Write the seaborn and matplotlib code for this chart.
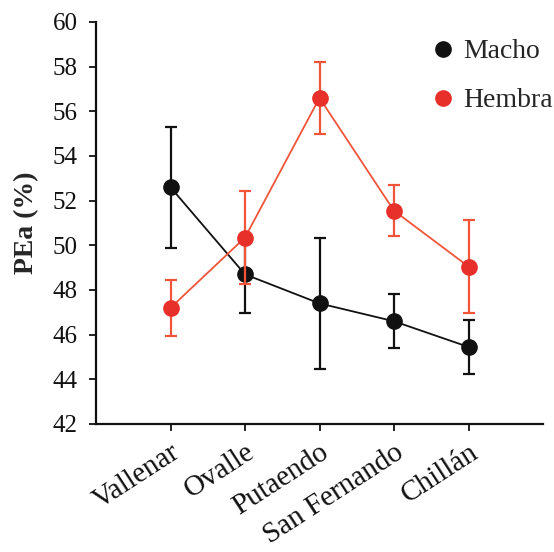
import matplotlib
matplotlib.use("Agg")
import matplotlib.pyplot as plt
import seaborn as sns
import pandas as pd
import numpy as np
from matplotlib.lines import Line2D

sites = ["Vallenar", "Ovalle", "Putaendo", "San Fernando", "Chillán"]
macho_mean = [52.6, 48.7, 47.4, 46.6, 45.45]
macho_err = [2.7, 1.72, 2.95, 1.2, 1.22]
hembra_mean = [47.2, 50.35, 56.6, 51.55, 49.05]
hembra_err = [1.25, 2.1, 1.62, 1.13, 2.07]
yticks = [42, 44, 46, 48, 50, 52, 54, 56, 58, 60]

sns.set_style("ticks")
plt.rcParams["font.family"] = ["Liberation Serif", "DejaVu Serif"]

df = pd.DataFrame({
    "site": sites * 2,
    "value": macho_mean + hembra_mean,
    "sex": ["Macho"] * 5 + ["Hembra"] * 5,
})

fig = plt.figure(figsize=(5.54, 5.52), dpi=100)
ax = fig.add_axes([96 / 554, 1 - 424 / 552, (543 - 96) / 554, (424 - 22) / 552])

black = "#111111"
red = "#e8302a"
red_line = "#f0553a"

sns.pointplot(data=df[df.sex == "Macho"], x="site", y="value", order=sites,
              color=black, errorbar=None, markers="o", markersize=11,
              linewidth=1.3, ax=ax, zorder=3)
ax.errorbar(np.arange(len(sites)), macho_mean, yerr=macho_err, fmt="none",
            ecolor=black, elinewidth=1.6, capsize=4.5, capthick=1.6, zorder=2)

sns.pointplot(data=df[df.sex == "Hembra"], x="site", y="value", order=sites,
              color=red_line, errorbar=None, markers="o", markersize=0,
              linewidth=1.3, ax=ax, zorder=4)
ax.plot(np.arange(len(sites)), hembra_mean, "o", color=red, markersize=11,
        zorder=6)
ax.errorbar(np.arange(len(sites)), hembra_mean, yerr=hembra_err, fmt="none",
            ecolor=red_line, elinewidth=1.6, capsize=4.5, capthick=1.6, zorder=5)

ax.set_xlim(-1, 5)
ax.set_ylim(42, 60)
ax.set_yticks(yticks)
ax.set_yticklabels([str(t) for t in yticks], fontsize=18)
ax.set_xticks(range(len(sites)))
ax.set_xticklabels(sites, rotation=33, ha="right", rotation_mode="anchor",
                   fontsize=21)
ax.set_xlabel("")
ax.set_ylabel("PEa (%)", fontsize=20, fontweight="bold", labelpad=10)
ax.tick_params(axis="both", direction="out", length=5, width=1.3, colors=black)
ax.tick_params(axis="x", pad=6)
ax.tick_params(axis="y", pad=8)
for s in ["left", "bottom"]:
    ax.spines[s].set_linewidth(1.6)
    ax.spines[s].set_color(black)
sns.despine(ax=ax)

handles = [
    Line2D([], [], marker="o", linestyle="none", color=black, markersize=11),
    Line2D([], [], marker="o", linestyle="none", color=red, markersize=11),
]
ax.legend(handles, ["Macho", "Hembra"], loc="upper left",
          bbox_to_anchor=(0.69, 1.02), frameon=False, fontsize=20,
          handlelength=1.0, handletextpad=0.2, labelspacing=0.85)

fig.savefig("out.png", dpi=100)
